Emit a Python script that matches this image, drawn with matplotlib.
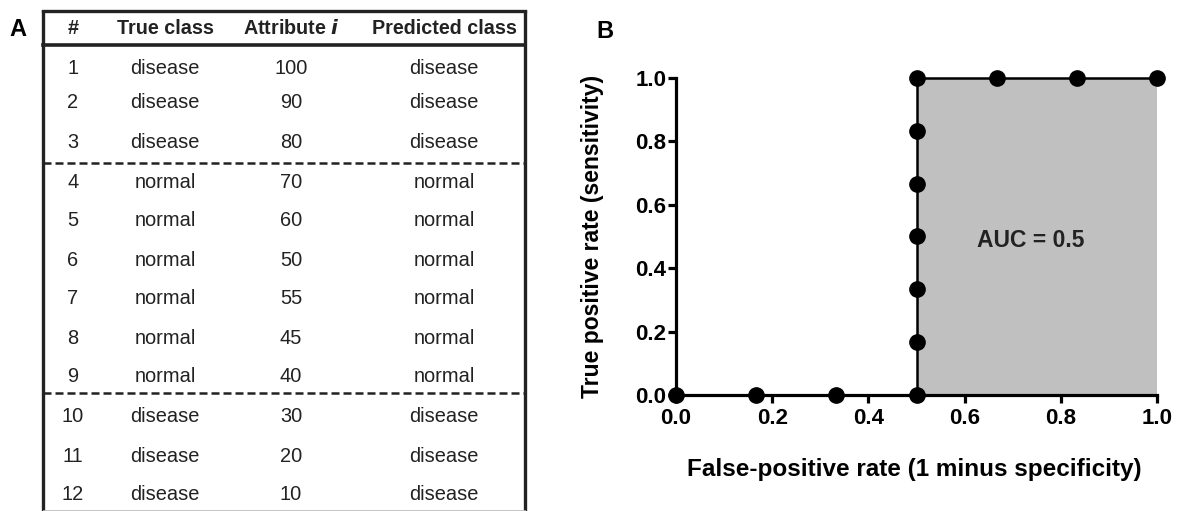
import matplotlib.pyplot as plt

plt.rcParams['font.family'] = ['Liberation Sans', 'DejaVu Sans']

# Table data (panel A)
row_ids = [1, 2, 3, 4, 5, 6, 7, 8, 9, 10, 11, 12]
true_class = ["disease", "disease", "disease",
              "normal", "normal", "normal", "normal", "normal", "normal",
              "disease", "disease", "disease"]
attribute = [100, 90, 80, 70, 60, 50, 55, 45, 40, 30, 20, 10]
predicted_class = ["disease", "disease", "disease",
                   "normal", "normal", "normal", "normal", "normal", "normal",
                   "disease", "disease", "disease"]
headers = ["#", "True class", "Attribute $\\mathbfit{i}$", "Predicted class"]

# ROC points (panel B)
fpr = [0.0, 0.167, 0.333, 0.5, 0.5, 0.5, 0.5, 0.5, 0.5, 0.5, 0.667, 0.833, 1.0]
tpr = [0.0, 0.0, 0.0, 0.0, 0.167, 0.333, 0.5, 0.667, 0.833, 1.0, 1.0, 1.0, 1.0]
xticks = [0.0, 0.2, 0.4, 0.6, 0.8, 1.0]
yticks = [0.0, 0.2, 0.4, 0.6, 0.8, 1.0]

W, H = 1177, 511
fig = plt.figure(figsize=(W / 100, H / 100), dpi=100)

# ---- panel A: table drawn in pixel coordinates
ax0 = fig.add_axes([0, 0, 1, 1])
ax0.set_xlim(0, W)
ax0.set_ylim(H, 0)
ax0.axis('off')

txt = '#222222'
col_x = [73, 165, 291, 444]
left, right = 43, 525
ax0.plot([left, left], [10, H], color='#222', lw=2.4, solid_capstyle='butt')
ax0.plot([right, right], [10, H], color='#222', lw=2.4, solid_capstyle='butt')
ax0.plot([left, right], [11, 11], color='#222', lw=2.4)
ax0.plot([left, right], [45.5, 45.5], color='#222', lw=2.6)
ax0.plot([left, right], [510, 510], color='#bbbbbb', lw=0.6)
for yy in [163, 393]:
    ax0.plot([left, right], [yy, yy], color='#222', lw=1.8, linestyle=(0, (3.2, 1.6)))

for cx, h in zip(col_x, headers):
    ax0.text(cx, 29, h, ha='center', va='center', fontsize=14.2,
             fontweight='bold', color=txt)

row_y = [68, 103, 143, 182, 221, 260, 299, 338, 377, 416, 456, 494]
for i in range(len(row_ids)):
    y = row_y[i]
    vals = [str(row_ids[i]), true_class[i], str(attribute[i]), predicted_class[i]]
    for cx, v in zip(col_x, vals):
        ax0.text(cx, y, v, ha='center', va='center', fontsize=14.4, color=txt)

ax0.text(9, 30, "A", ha='left', va='center', fontsize=17, fontweight='bold')
ax0.text(596, 32, "B", ha='left', va='center', fontsize=17, fontweight='bold')

# ---- panel B: ROC curve
ax = fig.add_axes([676 / W, (H - 395) / H, 481 / W, 317 / H])
ax.fill_between(fpr, tpr, 0, color='#c0c0c0', lw=0)
ax.plot(fpr, tpr, color='black', lw=1.8, marker='o', markersize=11,
        clip_on=False, zorder=5)
ax.set_xlim(0, 1)
ax.set_ylim(0, 1)
ax.set_xticks(xticks)
ax.set_yticks(yticks)
ax.set_xticklabels(["%.1f" % v for v in xticks])
ax.set_yticklabels(["%.1f" % v for v in yticks])
for s in ['top', 'right']:
    ax.spines[s].set_visible(False)
for s in ['left', 'bottom']:
    ax.spines[s].set_linewidth(2.3)
ax.tick_params(width=2.3, length=5.5, labelsize=16)
ax.tick_params(axis='x', pad=3.5)
ax.tick_params(axis='y', pad=1.5)
for lab in ax.get_xticklabels() + ax.get_yticklabels():
    lab.set_fontweight('bold')
ax.set_xlabel("False-positive rate (1 minus specificity)", fontsize=17.5,
              fontweight='bold')
ax.xaxis.set_label_coords(0.495, -0.2)
ax.set_ylabel("True positive rate (sensitivity)", fontsize=16.5,
              fontweight='bold')
ax.yaxis.label.set_va('center')
ax.yaxis.set_label_coords(-0.173, 0.5)
ax.text(0.738, 0.487, "AUC = 0.5", ha='center', va='center', fontsize=16.5,
        fontweight='bold', color='#222')

fig.savefig('out.png', dpi=100)
